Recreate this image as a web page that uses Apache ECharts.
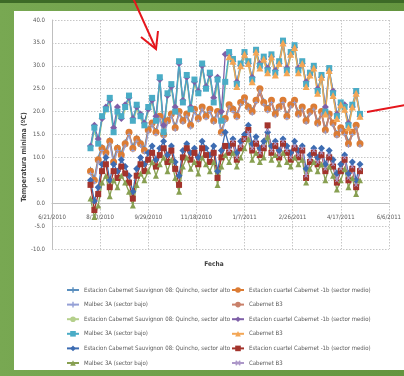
<!DOCTYPE html>
<html>
<head>
<meta charset="utf-8">
<script src="https://cdn.jsdelivr.net/npm/echarts@6/dist/echarts.min.js"></script>
<style>
  html, body { margin: 0; padding: 0; }
  #frame { position: relative; width: 404px; height: 376px; overflow: hidden;
           background: linear-gradient(90deg, #78a852 0%, #64953f 100%); }
  #topband { position: absolute; left: 0; top: 0; width: 404px; height: 3px; background: #3d6a27; }
  #sheet { position: absolute; left: 14px; top: 11px; width: 390px; height: 359px; background: #ffffff; }
  #chart { position: absolute; left: 0; top: 0; width: 404px; height: 376px; }
</style>
</head>
<body>
<div id="frame"><div id="topband"></div><div id="sheet"></div><div id="chart"></div></div>
<script>
// Daily records sampled every 4 days, starting 31/07/2010 (spreadsheet serial date)
const firstDay = 40390;
const stepDays = 4;
// Cabernet B3 station records begin in early January 2011 (sample index 36)
const cabB3StartIndex = 36;

// Axis ticks
const xMin = 40350, xMax = 40700, xStep = 50;   // 6/21/2010 .. 6/6/2011
const yMin = -10, yMax = 40, yStep = 5;

// ---- mean temperatures (ºC)
const tMediaCS08 = [7.5,5.5,10,12.5,11.5,14,9.5,12.5,11,13.5,15,12.5,14.5,13.5,12,16.5,17,16,18.5,15.5,18.5,19,17,19.5,18.5,19,17.5,20,19,20.5,19.5,20,18.5,19.5,16,18,21,21,19.5,21.5,22.5,21.5,20.5,22,24.5,22.5,21,22,20,21.5,22,19.5,21,22,20,20.5,18.5,19.5,20.5,18,19.5,16.5,19,17,15.5,16,16,13.5,15,16.5,13.5];
const tMediaCuartel = [7,5,9.5,12,11,13.5,9,12,10.5,13,15.5,12,14,13,11.5,16,17.5,15.5,19,15,18,19.5,16.5,20,18,19.5,17,20.5,18.5,21,19,20.5,18,20,15.5,18.5,21.5,20.5,19,22,23,21,20,22.5,25,22,20.5,22.5,19.5,21,22.5,19,21.5,22.5,19.5,21,18,20,21,17.5,20,16,19.5,17.5,15,16.5,15.5,13,15.5,17,13];
const tMediaMalbec = [6.5,4.5,9,11.5,10.5,13,8.5,11.5,10,12.5,15,11.5,13.5,12.5,11,15.5,17,15,18.5,14.5,17.5,19,16,19.5,17.5,19,16.5,20,18,20.5,18.5,20,17.5,19.5,15,18,21,20,18.5,21.5,22.5,20.5,19.5,22,24.5,21.5,20,22,19,20.5,22,18.5,21,22,19,20.5,17.5,19.5,20.5,17,19.5,15.5,19,17,14.5,16,15,12.5,15,16.5,12.5];
const tMediaCabB3 = [21,20,19.5,21.5,22.5,20.5,19.5,22,24,21.5,20,22,19,20.5,22,18.5,21,22,19,20.5,17.5,19.5,20.5,17,19.5,15.5,19,17,14.5,16,15,12.5,15,16.5,12.5];

// ---- maximum temperatures (ºC)
const tMaxCS08 = [11.5,16,12.5,18,20,22,15,19.5,18,20.5,22.5,17.5,20.5,18.5,16.5,20,22,17.5,26.5,15,23,25,19.5,30,21.5,27,20,26,23.5,29.5,24.5,27.5,21.5,26,17.5,25.5,32,30.5,25.5,29.5,32,30,26.5,32.5,29.5,31,28.5,31.5,28,30,34.5,28.5,32,33.5,28.5,30,25.5,27.5,29,24,27,19.5,28.5,23.5,18.5,21,20.5,16.5,20.5,23.5,19];
const tMaxCuartel = [12.5,17,14,18.5,21,22.5,16.5,21,18.5,21.5,23,18.5,21,19.5,17.5,20.5,22.5,19,27,17,23.5,25.5,21,30.5,22.5,27.5,21,26.5,24.5,30,25.5,28,23,27.5,20,32.5,32.5,31,26.5,30,32.5,30.5,27.5,33,30.5,31.5,29.5,32,29,30.5,35,29.5,32.5,34,29.5,30.5,26.5,28,29.5,25,27.5,21,29,24.5,19.5,21.5,21.5,17.5,21,24,19];
const tMaxMalbec = [12,16.5,13,19,20.5,23,15.5,20,19,21,23.5,18,21.5,19,17,21,23,18,27.5,15.5,24,26,20,31,22,28,20.5,27,24,30.5,25,28.5,22,27,18,26.5,33,31.5,26,30.5,33,31,27,33.5,30,32,29,32.5,28.5,31,35.5,29,33,34.5,29,31,26,28.5,30,24.5,28,20,29.5,24,19,22,21,17,21.5,24.5,19.5];
const tMaxCabB3 = [32,31,25.5,30,32.5,30.5,26.5,33,29.5,31.5,28.5,32,28,30.5,35,28.5,32.5,34,28.5,30.5,25.5,28,29.5,24,27.5,19.5,29,23.5,18.5,21.5,20.5,16.5,21,24,19];

// ---- minimum temperatures (ºC)
const tMinCS08 = [5,0.5,3.5,8.5,10,5,8.5,7,9.5,8,6,2.5,7.5,10,8.5,11,12.5,9.5,12,13.5,10.5,12.5,9,6,11.5,13,11,12,10,13.5,12,10.5,12.5,7,11.5,15.5,12.5,14,11,13.5,15,17,13,14.5,12,13.5,15.5,12.5,13.5,11.5,14,12.5,11,13.5,11.5,12.5,7.5,10.5,12,10,12,8.5,11.5,9.5,6.5,8.5,10.5,6.5,9,5,8.5];
const tMinCuartel = [4,-1.5,2,7,8.5,3.5,7,5.5,8,6.5,4.5,1,6,8.5,7,9.5,11,8,10.5,12,9,11.5,7.5,4,10,12,9.5,11,8.5,12,10.5,9,11,5.5,10,12.5,11,13,9.5,12,14,16,11.5,13,10.5,12,17,11,12.5,10,13,11,9.5,12,10,11.5,5.5,9,11,8.5,10.5,7,10,8,4.5,7,9.5,5,7.5,3.5,7];
const tMinMalbec = [1,-3,-0.5,4.5,6,1.5,5,3.5,6,4.5,2.5,-0.5,4,6.5,5,7,9,6,8.5,10,7,9.5,5.5,2.5,8,10,7.5,9,6.5,10,8.5,7,9,4,8,10.5,9,11,8,10,12,14,9.5,11,9,10,14.5,9.5,10.5,8.5,11,9,8,10,8.5,9.5,4.5,7.5,9,7,8.5,5,8,6,3,5,7.5,3.5,5.5,2,5];
const tMinCabB3 = [11.5,13.5,10,12.5,14,15.5,12,13.5,11,12.5,16,11.5,13,10.5,13.5,11.5,10,12.5,10.5,12,6,9.5,11.5,9,11,7.5,10.5,8.5,5,7.5,10,5.5,8,4,7.5];

// Legend texts
const lblCS08 = 'Estacion Cabernet Sauvignon 08: Quincho, sector alto';
const lblCuartel = 'Estacion cuartel Cabernet -1b (sector medio)';
const lblMalbec = 'Malbec 3A (sector bajo)';
const lblCabB3 = 'Cabernet B3';

const FONT = "'Liberation Sans Narrow','DejaVu Sans Condensed','Liberation Sans',sans-serif";
const PLUS = 'path://M3,0H5V3H8V5H5V8H3V5H0V3H3Z';
const CROSS = 'path://M0,1.4L1.4,0L4,2.6L6.6,0L8,1.4L5.4,4L8,6.6L6.6,8L4,5.4L1.4,8L0,6.6L2.6,4Z';

const defs = [
  { name: 'mediaCS08',    label: lblCS08,    values: tMediaCS08,    start: 0, color: '#5a8fbf', symbol: PLUS,      size: 4 },
  { name: 'mediaCuartel', label: lblCuartel, values: tMediaCuartel, start: 0, color: '#dc7c34', symbol: 'circle',  size: 7 },
  { name: 'mediaMalbec',  label: lblMalbec,  values: tMediaMalbec,  start: 0, color: '#95a0d6', symbol: PLUS,      size: 4 },
  { name: 'mediaCabB3',   label: lblCabB3,   values: tMediaCabB3,   start: cabB3StartIndex, color: '#c9806a', symbol: 'none', size: 0 },
  { name: 'maxCS08',      label: lblCS08,    values: tMaxCS08,      start: 0, color: '#b5d08c', symbol: 'none',    size: 0 },
  { name: 'maxCuartel',   label: lblCuartel, values: tMaxCuartel,   start: 0, color: '#7f60a8', symbol: 'diamond', size: 7 },
  { name: 'maxMalbec',    label: lblMalbec,  values: tMaxMalbec,    start: 0, color: '#4aacc6', symbol: 'rect',    size: 6 },
  { name: 'maxCabB3',     label: lblCabB3,   values: tMaxCabB3,     start: cabB3StartIndex, color: '#f3a655', symbol: 'triangle', size: 7 },
  { name: 'minCS08',      label: lblCS08,    values: tMinCS08,      start: 0, color: '#3d6cb2', symbol: 'diamond', size: 7 },
  { name: 'minCuartel',   label: lblCuartel, values: tMinCuartel,   start: 0, color: '#a3342c', symbol: 'rect',    size: 6 },
  { name: 'minMalbec',    label: lblMalbec,  values: tMinMalbec,    start: 0, color: '#88a052', symbol: 'triangle', size: 6 },
  { name: 'minCabB3',     label: lblCabB3,   values: tMinCabB3,     start: cabB3StartIndex, color: '#ad98c9', symbol: CROSS, size: 4 }
];

const labelOf = {};
defs.forEach(d => { labelOf[d.name] = d.label; });

function serialToText(v) {
  const dt = new Date(Math.round((v - 25569) * 86400000));
  return (dt.getUTCMonth() + 1) + '/' + dt.getUTCDate() + '/' + dt.getUTCFullYear();
}

const series = defs.map(d => ({
  name: d.name,
  type: 'line',
  data: d.values.map((v, j) => [firstDay + stepDays * (d.start + j), v]),
  symbol: d.symbol,
  symbolSize: d.size,
  showSymbol: d.symbol !== 'none',
  itemStyle: { color: d.color },
  lineStyle: { color: d.color, width: 1.3 },
  emphasis: { disabled: true }
}));

function legendFor(names, left) {
  return {
    orient: 'vertical', left: left, top: 286.5, padding: 0,
    data: names, itemWidth: 12, itemHeight: 7, itemGap: 7.6,
    selectedMode: false,
    textStyle: { fontSize: 6, color: '#595959', fontFamily: FONT, lineHeight: 7 },
    formatter: n => labelOf[n]
  };
}

const chart = echarts.init(document.getElementById('chart'), null, { renderer: 'canvas' });
chart.setOption({
  animation: false,
  backgroundColor: 'transparent',
  grid: { left: 52, right: 14, top: 20, bottom: 127, containLabel: false },
  xAxis: {
    type: 'value', min: xMin, max: xMax, interval: xStep,
    // the date axis crosses the temperature axis at 0 ºC
    offset: -45.8,
    axisLine: { show: true, onZero: false, lineStyle: { color: '#bfbfbf', width: 1 } },
    axisTick: { show: false },
    axisLabel: { formatter: serialToText, fontSize: 6, color: '#595959', fontFamily: FONT, margin: 11 },
    splitLine: { show: true, lineStyle: { color: '#c6c6c6', type: [1.5, 1.5], width: 1 } }
  },
  yAxis: {
    type: 'value', min: yMin, max: yMax, interval: yStep,
    axisLine: { show: true, lineStyle: { color: '#bfbfbf', width: 1 } },
    axisTick: { show: false },
    axisLabel: { formatter: v => v.toFixed(1), fontSize: 6, color: '#595959', fontFamily: FONT, margin: 7 },
    splitLine: { show: true, lineStyle: { color: '#c6c6c6', type: [1.5, 1.5], width: 1 } }
  },
  legend: [
    legendFor(defs.filter((d, i) => i % 2 === 0).map(d => d.name), 66),
    legendFor(defs.filter((d, i) => i % 2 === 1).map(d => d.name), 231)
  ],
  graphic: [
    { type: 'text', x: 24, y: 157, rotation: Math.PI / 2,
      style: { text: 'Temperatura minima (ºC)', fontSize: 7, fontWeight: 'bold', fill: '#404040',
               fontFamily: FONT, align: 'center', verticalAlign: 'middle' } },
    { type: 'text', x: 214, y: 264,
      style: { text: 'Fecha', fontSize: 6.5, fontWeight: 'bold', fill: '#404040',
               fontFamily: FONT, align: 'center', verticalAlign: 'middle' } },
    { type: 'line', z: 100, shape: { x1: 133, y1: -2, x2: 156, y2: 49 },
      style: { stroke: '#e5161c', lineWidth: 2 } },
    { type: 'polyline', z: 100, shape: { points: [[141, 37], [156, 49], [158, 31]] },
      style: { stroke: '#e5161c', lineWidth: 2, fill: null } },
    { type: 'line', z: 100, shape: { x1: 367, y1: 112, x2: 406, y2: 105 },
      style: { stroke: '#e5161c', lineWidth: 2 } }
  ],
  series: series
});
</script>
</body>
</html>
